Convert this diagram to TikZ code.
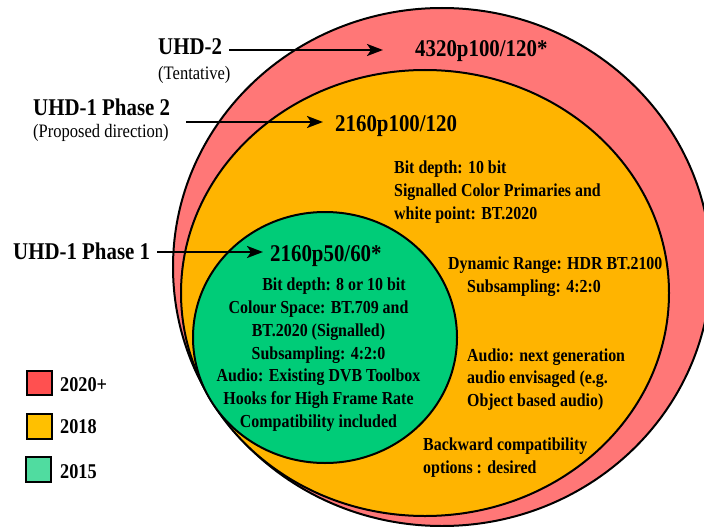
\documentclass[tikz,border=0pt]{standalone}
\usepackage{fontspec}
\setmainfont{Liberation Serif}[FakeStretch=0.87]
\usetikzlibrary{arrows.meta}

\definecolor{ringred}{HTML}{FF7777}
\definecolor{ringorange}{HTML}{FFB400}
\definecolor{ringgreen}{HTML}{00CC78}
\definecolor{keyred}{HTML}{FF5050}
\definecolor{keyorange}{HTML}{FFC000}
\definecolor{keygreen}{HTML}{50DCA0}

% multi-line nodes below are placed by the baseline of their last line
\tikzset{
  ring/.style={draw=black, line width=2pt},
  title/.style={inner sep=0pt, anchor=base west, font=\bfseries\fontsize{24}{28}\selectfont},
  subtitle/.style={inner sep=0pt, anchor=base west, font=\fontsize{19}{23}\selectfont},
  body/.style={inner sep=0pt, anchor=base west, align=left, font=\bfseries\fontsize{18.3}{22.8}\selectfont},
  keybox/.style={draw=black, line width=1.8pt},
  keylabel/.style={inner sep=0pt, anchor=base west, font=\bfseries\fontsize{21}{25}\selectfont},
  pointer/.style={line width=2.2pt, -{Stealth[length=16pt,width=12pt,inset=4pt]}},
}

\begin{document}
\begin{tikzpicture}[x=1pt, y=-1pt]
  \useasboundingbox (0,0) rectangle (704,527);
  \clip (0,0) rectangle (704,527);

  % nested generation ellipses
  \draw[ring, fill=ringred]    (442,267)   ellipse [x radius=269, y radius=259];
  \draw[ring, fill=ringorange] (425,293)   ellipse [x radius=244, y radius=223];
  \draw[ring, fill=ringgreen]  (325,337.5) ellipse [x radius=132, y radius=125.5];

  % generation labels on the left
  \node[title]    (uhd2)   at (158,55)  {UHD-2};
  \node[subtitle] (uhd2s)  at (158,79)  {(Tentative)};
  \node[title]    (uhd1b)  at (33,115)  {UHD-1 Phase 2};
  \node[subtitle] (uhd1bs) at (33,137)  {(Proposed direction)};
  \node[title]    (uhd1a)  at (13,259)  {UHD-1 Phase 1};

  % formats inside the rings
  \node[title] (f4320) at (415,57)  {4320p100/120*};
  \node[title] (f2160b) at (335,131) {2160p100/120};
  \node[title] (f2160a) at (270,261) {2160p50/60*};

  % pointers from the labels into the rings
  \coordinate (p1s) at (229,50);  \coordinate (p1e) at (383,50);
  \coordinate (p2s) at (186,122); \coordinate (p2e) at (323,122);
  \coordinate (p3s) at (157,252); \coordinate (p3e) at (263,252);
  \draw[pointer] (p1s) -- (p1e);
  \draw[pointer] (p2s) -- (p2e);
  \draw[pointer] (p3s) -- (p3e);

  % UHD-1 Phase 1 features
  \node[body, align=center, anchor=base] (phase1) at (318.5,427.4)
    {\hspace*{31pt}Bit depth: 8 or 10 bit\\
     Colour Space: BT.709 and\\
     BT.2020 (Signalled)\\
     Subsampling: 4:2:0\\
     Audio: Existing DVB Toolbox\\
     Hooks for High Frame Rate\\
     Compatibility included};

  % UHD-1 Phase 2 features
  \node[body] (depth2) at (394,219.3)
    {Bit depth: 10 bit\\
     Signalled Color Primaries and\\
     white point: BT.2020};
  \node[body] (hdr) at (448,292.3)
    {Dynamic Range: HDR BT.2100\\
     \hspace*{19pt}Subsampling: 4:2:0};
  \node[body] (audio2) at (467,406.7)
    {Audio: next generation\\
     audio envisaged (e.g.\\
     Object based audio)};
  \node[body] (compat) at (423,473.3)
    {Backward compatibility\\
     options : desired};

  % legend
  \draw[keybox, fill=keyred]    (27,371) rectangle (52,395);
  \draw[keybox, fill=keyorange] (27,414) rectangle (52,439);
  \draw[keybox, fill=keygreen]  (26,457) rectangle (51,482);
  \node[keylabel] (k2020) at (60,391) {2020+};
  \node[keylabel] (k2018) at (60,433) {2018};
  \node[keylabel] (k2015) at (60,478) {2015};
\end{tikzpicture}
\end{document}
